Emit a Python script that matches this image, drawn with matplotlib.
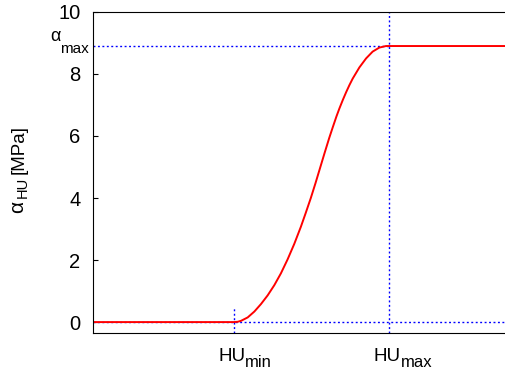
import numpy as np
import matplotlib
matplotlib.use('Agg')
import matplotlib.pyplot as plt
from matplotlib.transforms import offset_copy

plt.rcParams['font.family'] = ['Liberation Sans', 'DejaVu Sans']

# arbitrary HU axis units
hu_min = 141
hu_max = 297
alpha_max = 8.9
x_end = 413

# curve points
hu = [0, 141, 145, 148.3, 155, 161.7, 168.3, 175, 181.7, 188.3, 195, 201.7, 208.3,
      213, 218.3, 223, 227.5, 232, 236.8, 240.3, 244, 247, 250.5, 253.7, 257,
      260.3, 267, 273.7, 280.3, 287, 293.7, 297, 413]
alpha = [0, 0, 0.01, 0.04, 0.15, 0.34, 0.58, 0.86, 1.19, 1.57, 2.02, 2.52, 3.07,
         3.50, 4.0, 4.48, 4.96, 5.44, 5.94, 6.28, 6.63, 6.89, 7.17, 7.41, 7.64,
         7.85, 8.21, 8.5, 8.72, 8.85, 8.9, 8.9, 8.9]

fig = plt.figure(figsize=(5.06, 3.72), dpi=100)
ax = fig.add_axes([0.184, 0.105, 0.814, 0.863])

blue = dict(color='#0000ff', lw=1.0, dashes=(1.4, 1.8))
ax.plot([0, x_end], [0, 0], **blue)
ax.plot([hu_min, hu_min], [-0.35, 0.5], **blue)
ax.plot([hu_max, hu_max], [-0.35, 10], **blue)
ax.plot([0, hu_max], [alpha_max, alpha_max], **blue)

ax.plot(hu, alpha, color='#ff0000', lw=1.4)

ax.set_xlim(0, x_end)
ax.set_ylim(-0.35, 10)
ax.spines['right'].set_visible(False)

ax.set_yticks([0, 2, 4, 6, 8, 10])
ax.tick_params(axis='y', direction='in', length=3.6, labelsize=14.5, pad=9)
ax.set_xticks([])

renderer = fig.canvas.get_renderer()


def put_parts(trans, x, y, parts, dx0=0.0):
    # parts: (text, fontsize, baseline shift in px)
    dx = dx0
    for s, size, dy in parts:
        t = offset_copy(trans, fig=fig, x=dx, y=dy, units='dots')
        txt = ax.text(x, y, s, transform=t, fontsize=size, ha='left', va='baseline',
                      clip_on=False)
        dx += txt.get_window_extent(renderer).width
    return dx


xtr = ax.get_xaxis_transform()
for xv, sub in [(hu_min, 'min'), (hu_max, 'max')]:
    put_parts(xtr, xv, 0, [('HU', 13.5, -28.5), (sub, 12, -34.5)], dx0=-15.5)

# alpha_max label, right-aligned to the axis
ytr = ax.get_yaxis_transform()
am_parts = [('\u03b1', 13, 5.5), ('max', 11, -7)]
tmp = [ax.text(0, 0, s, fontsize=f) for s, f, _ in am_parts]
wsum = sum(t.get_window_extent(renderer).width for t in tmp)
for t in tmp:
    t.remove()
put_parts(ytr, 0, alpha_max, am_parts, dx0=-4 - wsum)


# y label, built from pieces (pixel positions of the reference)
def fig_pt(px, py):
    return px / 506, (372 - py) / 372


for s, size, base_x, start in [('\u03b1', 15, 23, 213), ('HU', 10.5, 27, 198.5),
                               ('[MPa]', 13.5, 24, 174)]:
    fx, fy = fig_pt(base_x, start)
    fig.text(fx, fy, s, fontsize=size, rotation=90, rotation_mode='anchor',
             ha='left', va='baseline')

fig.savefig('out.png', dpi=100)
